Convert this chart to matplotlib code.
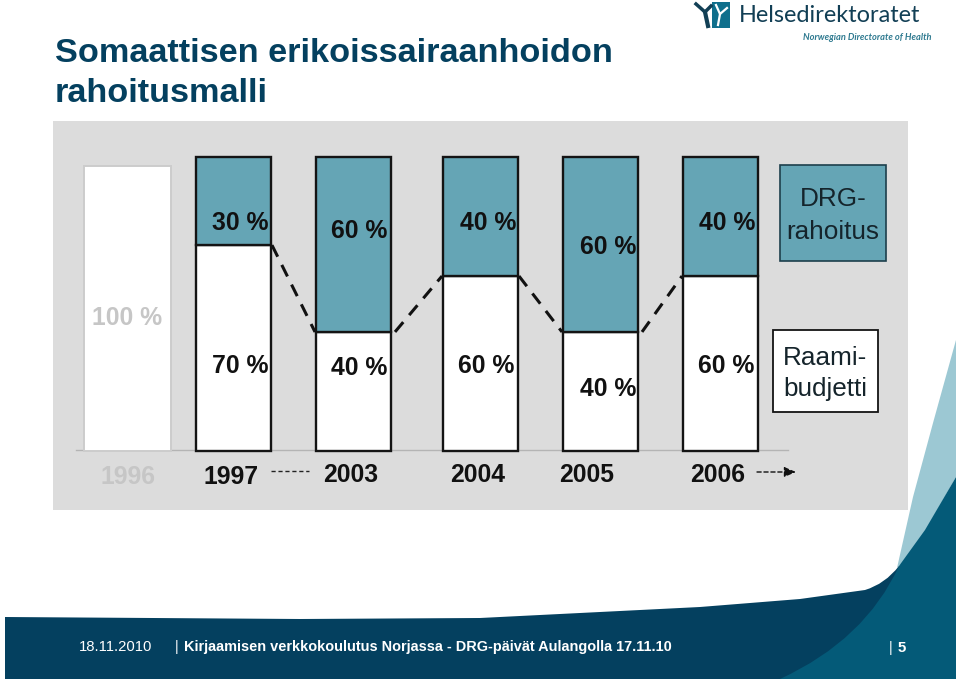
import matplotlib
matplotlib.use("Agg")
import matplotlib.pyplot as plt
from matplotlib.patches import Polygon, Rectangle, PathPatch
from matplotlib.path import Path

plt.rcParams['font.family'] = ['Liberation Sans', 'DejaVu Sans']

# ---- data ----
years = ['1996', '1997', '2003', '2004', '2005', '2006']
budget_share = [97, 70, 40.5, 59.5, 40.5, 59.5]
drg_share = [0, 30, 59.5, 40.5, 59.5, 40.5]
budget_labels = ['100 %', '70 %', '40 %', '60 %', '40 %', '60 %']
drg_labels = ['', '30 %', '60 %', '40 %', '60 %', '40 %']

# ---- layout (pixels) ----
W, H = 960, 681
bar_x = [127.5, 233.5, 353.5, 480.5, 600.5, 720.5]
bar_w = [87, 75, 75, 75, 75, 75]
budget_label_xy = [(127.5, 318), (240, 366), (359, 368), (486, 366), (608, 389), (726, 366)]
drg_label_xy = [None, (240, 223), (359, 231), (488, 223), (608, 247), (727, 223)]
year_xy = [(128, 477), (231, 477), (351, 475), (478, 475), (587, 475), (718, 475)]
Y0, Y100 = 451, 157
TEAL = '#65a5b5'
GREY_TXT = '#c6c6c6'
NAVY = '#04405f'
BLUE = '#045a78'

fig = plt.figure(figsize=(W / 100, H / 100), dpi=100, facecolor='white')

# pixel-space layer for the slide furniture
bg = fig.add_axes([0, 0, 1, 1], zorder=0)
bg.set_xlim(0, W); bg.set_ylim(H, 0); bg.axis('off')

bg.add_patch(Rectangle((53, 121), 855, 389, fc='#dcdcdc', ec='none'))

# footer shapes
bg.add_patch(Polygon([(897, 568), (913, 497), (933, 423), (956, 340), (956, 477), (913, 553)],
                     fc='#9cc8d3', ec='none'))
footer = Path([(5, 617), (300, 619), (480, 618), (700, 607), (800, 599), (865, 590),
               (885, 584), (899, 566), (905, 679), (5, 679), (5, 617)],
              [Path.MOVETO, Path.LINETO, Path.LINETO, Path.LINETO, Path.LINETO, Path.LINETO,
               Path.CURVE3, Path.CURVE3, Path.LINETO, Path.LINETO, Path.CLOSEPOLY])
bg.add_patch(PathPatch(footer, fc=NAVY, ec='none'))
teal = Path([(780, 679), (865, 640), (899, 566), (925, 530), (956, 477), (956, 679), (780, 679)],
            [Path.MOVETO, Path.CURVE3, Path.CURVE3, Path.LINETO, Path.LINETO, Path.LINETO, Path.CLOSEPOLY])
bg.add_patch(PathPatch(teal, fc=BLUE, ec='none'))

# title
bg.text(55, 53, 'Somaattisen erikoissairaanhoidon', fontsize=24.7, fontweight='bold', color=NAVY, va='center')
bg.text(55, 94, 'rahoitusmalli', fontsize=24.7, fontweight='bold', color=NAVY, va='center')

# logo
bg.add_patch(Rectangle((712, 2), 18, 26, fc='#0f6f8c', ec='none'))
bg.plot([696, 705, 711], [4, 12, 6], color='#123f55', lw=2.5)
bg.plot([705, 708], [12, 26], color='#123f55', lw=3)
bg.plot([716, 720, 727], [5, 14, 8], color='white', lw=1.6)
bg.plot([720, 718], [14, 25], color='white', lw=1.6)
bg.text(739, 16, 'Helsedirektoratet', fontsize=16.9, color='#123f55', va='center', family=['Lato', 'DejaVu Sans'])
bg.text(803, 38, 'Norwegian Directorate of Health', fontsize=6.7, color='#2f7a90', va='center',
        style='italic', fontweight='bold', family=['Lato', 'DejaVu Sans'])

# footer text
bg.text(79, 647, '18.11.2010', fontsize=10.7, color='white', va='center')
bg.text(175, 647, '| ', fontsize=10.4, color='white', va='center')
bg.text(184, 647, 'Kirjaamisen verkkokoulutus Norjassa - DRG-päivät Aulangolla 17.11.10',
        fontsize=10.45, color='white', va='center', fontweight='bold')
bg.text(889, 648, '|', fontsize=10.4, color='white', va='center')
bg.text(898, 648, '5', fontsize=10.7, color='white', va='center', fontweight='bold')

# chart axes: x in pixels, y in percent
ax = fig.add_axes([0, 0, 1, 1], zorder=1)
ax.set_xlim(0, W)
ax.set_ylim((Y0 - H) / (Y0 - Y100) * 100, Y0 / (Y0 - Y100) * 100)
ax.axis('off')

ax.plot([76, 788], [0.3, 0.3], color='#b4b4b4', lw=1, zorder=1)

for i in range(len(years)):
    grey = i == 0
    ec = '#cccccc' if grey else '#141414'
    lw = 1.4 if grey else 1.7
    ax.bar(bar_x[i], budget_share[i], width=bar_w[i], color='white', edgecolor=ec, linewidth=lw, zorder=2)
    if drg_share[i]:
        ax.bar(bar_x[i], drg_share[i], width=bar_w[i], bottom=budget_share[i], color=TEAL,
               edgecolor=ec, linewidth=lw, zorder=2)

# dashed connectors between consecutive boundaries
for i in range(1, len(years) - 1):
    gapL = 1 if i in (1, 3) else 4
    gapR = 1
    ax.plot([bar_x[i] + bar_w[i] / 2 + gapL, bar_x[i + 1] - bar_w[i + 1] / 2 - gapR],
            [budget_share[i], budget_share[i + 1]], color='#111111', lw=2.2, ls=(0, (4.2, 3)), zorder=1.5)

# labels
for i in range(len(years)):
    c = GREY_TXT if i == 0 else '#111111'
    bg2 = dict(fontsize=17.8, fontweight='bold', ha='center', va='center', color=c, zorder=5)
    ax.text(budget_label_xy[i][0], (Y0 - budget_label_xy[i][1]) / 2.94, budget_labels[i], **bg2)
    if drg_label_xy[i]:
        ax.text(drg_label_xy[i][0], (Y0 - drg_label_xy[i][1]) / 2.94, drg_labels[i], **bg2)
    ax.text(year_xy[i][0], (Y0 - year_xy[i][1]) / 2.94, years[i], **bg2)

# year-axis dashes and arrow
ax.plot([271, 309], [(Y0 - 471) / 2.94] * 2, color='#222222', lw=1, ls=(0, (3, 2)))
ax.annotate('', xy=(796, (Y0 - 472) / 2.94), xytext=(757, (Y0 - 472) / 2.94),
            arrowprops=dict(arrowstyle='-|>,head_width=0.3,head_length=0.7', color='#111111', lw=1, ls=(0, (3, 2)),
                            shrinkA=0, shrinkB=0))

# legend boxes
ax.add_patch(Rectangle((780, (Y0 - 261) / 2.94), 106, 96 / 2.94, fc=TEAL, ec='#1d3f4c', lw=1.2, zorder=2))
ax.add_patch(Rectangle((773, (Y0 - 412) / 2.94), 105, 82 / 2.94, fc='white', ec='#141414', lw=1.3, zorder=2))
for txt, x, y in [('DRG-', 833, 199), ('rahoitus', 833, 232), ('Raami-', 825, 358), ('budjetti', 825, 389)]:
    ax.text(x, (Y0 - y) / 2.94, txt, fontsize=18.8, color='#15242b', ha='center', va='center', zorder=5)

fig.savefig('out.png', dpi=100, facecolor='white')
